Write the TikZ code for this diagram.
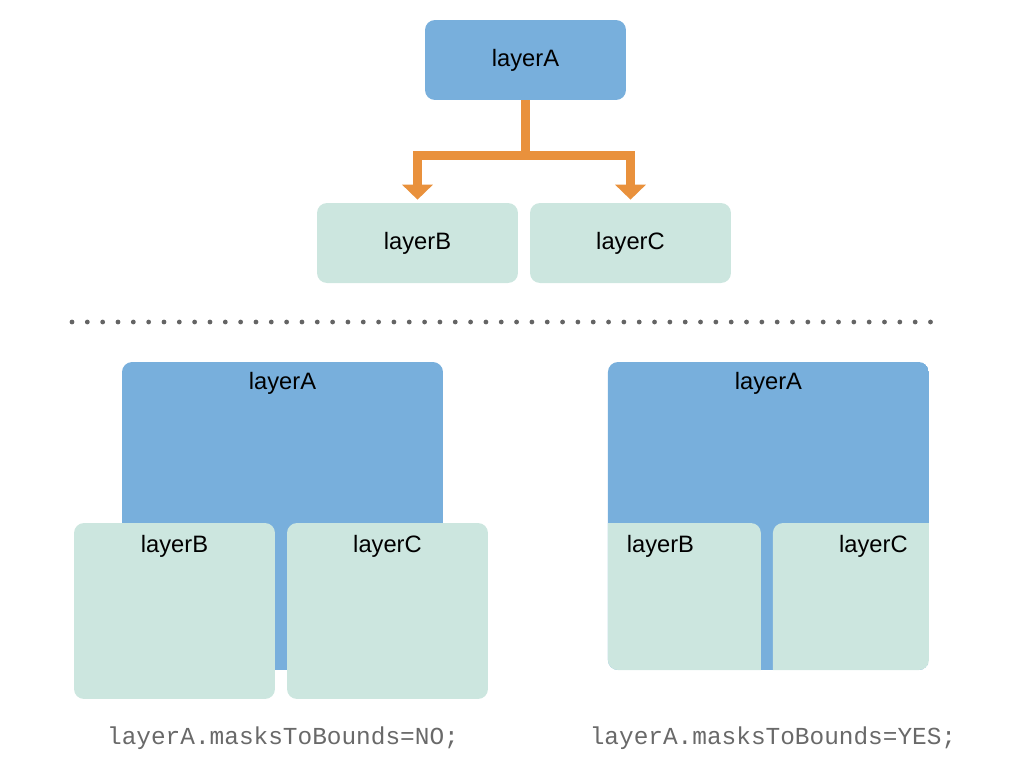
\documentclass[tikz,border=0pt]{standalone}
\usepackage{fontspec}
\setmainfont{Liberation Sans}
\newfontfamily\codefont{Liberation Mono}
\usepackage{xcolor}
\usetikzlibrary{arrows.meta}
\definecolor{layerblue}{RGB}{120,175,220}
\definecolor{layergreen}{RGB}{204,230,223}
\definecolor{flowor}{RGB}{233,145,60}
\definecolor{dotgray}{RGB}{100,100,100}
\definecolor{codegray}{RGB}{105,105,105}

\begin{document}
\begin{tikzpicture}[x=0.02cm,y=-0.02cm,
    boxA/.style={fill=layerblue,rounded corners=0.2cm,minimum width=4.02cm,minimum height=1.6cm,inner sep=0pt,font=\fontsize{13.5pt}{16pt}\selectfont},
    boxB/.style={fill=layergreen,rounded corners=0.2cm,minimum width=4.02cm,minimum height=1.6cm,inner sep=0pt,font=\fontsize{13.5pt}{16pt}\selectfont},
    txt/.style={inner sep=0pt,font=\fontsize{13.5pt}{16pt}\selectfont},
    code/.style={inner sep=0pt,text=codegray,font=\codefont\fontsize{13.9pt}{16pt}\selectfont},
    flow/.style={draw=flowor,line width=0.18cm,-{Triangle[width=0.6cm,length=0.3cm]}}]
      \useasboundingbox (0,0) rectangle (1020,768);

      % tree
      \node[boxA] (topA) at (525.5,60) {layerA};
      \node[boxB] (topB) at (417.5,243) {layerB};
      \node[boxB] (topC) at (630.5,243) {layerC};
      \draw[flow] (topA.south) -- ++(0,55) -| ([yshift=0.06cm]topB.north);
      \draw[flow] (topA.south) -- ++(0,55) -| ([yshift=0.06cm]topC.north);

      \foreach \i in {0,...,56} {
        \fill[dotgray] (72 + 15.33*\i, 322) circle[radius=0.048cm];
      }

      % masksToBounds = NO
      \node[boxA, minimum width=6.42cm, minimum height=6.16cm] (noA) at (282.5,516) {};
      \node[txt] (noAtext) at (282.5,383) {layerA};
      \node[boxB, minimum height=3.52cm] (noB) at (174.5,611) {};
      \node[txt] (noBtext) at (174.5,546) {layerB};
      \node[boxB, minimum height=3.52cm] (noC) at (387.5,611) {};
      \node[txt] (noCtext) at (387.5,546) {layerC};
      \node[code] (noCode) at (283,738) {layerA.masksToBounds=NO;};

      % masksToBounds = YES
      \begin{scope}[xshift=9.72cm]
        \clip[rounded corners=0.2cm] (122,362) rectangle (443,670);
        \node[boxA, minimum width=6.42cm, minimum height=6.16cm] (yesA) at (282.5,516) {};
        \node[txt] (yesAtext) at (282.5,383) {layerA};
        \node[boxB, minimum height=3.52cm] (yesB) at (174.5,611) {};
        \node[txt] (yesBtext) at (174.5,546) {layerB};
        \node[boxB, minimum height=3.52cm] (yesC) at (387.5,611) {};
        \node[txt] (yesCtext) at (387.5,546) {layerC};
      \end{scope}
      \node[code] (yesCode) at (773,738) {layerA.masksToBounds=YES;};
    \end{tikzpicture}
\end{document}
